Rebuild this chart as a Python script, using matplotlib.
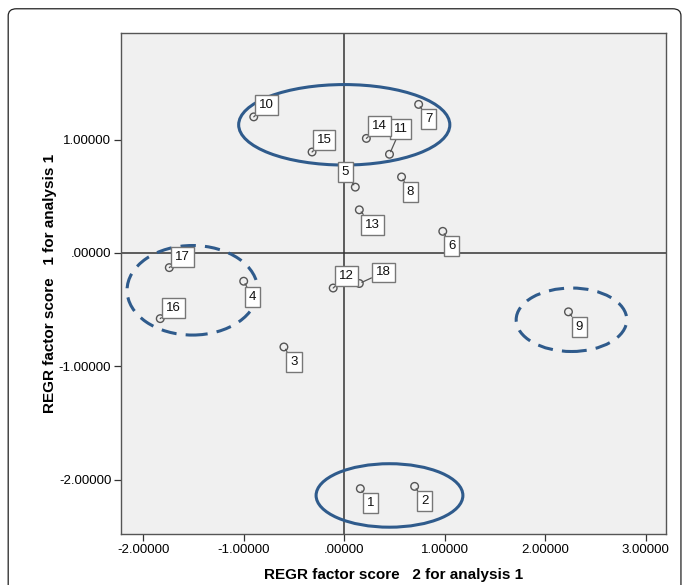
import matplotlib.pyplot as plt
from matplotlib.patches import Ellipse, FancyBboxPatch

# factor scores per case
case_ids = ['1', '2', '3', '4', '5', '6', '7', '8', '9', '10', '11', '12',
            '13', '14', '15', '16', '17', '18']
score2 = [0.16, 0.70, -0.60, -1.00, 0.11, 0.98, 0.74, 0.57, 2.23, -0.90,
          0.45, -0.11, 0.15, 0.22, -0.32, -1.83, -1.74, 0.15]
score1 = [-2.08, -2.06, -0.83, -0.25, 0.58, 0.19, 1.31, 0.67, -0.52, 1.20,
          0.87, -0.31, 0.38, 1.01, 0.89, -0.58, -0.13, -0.27]

# label offsets in pixels (dx, dy) from each point
label_off = [(10, -14), (10, -15), (10, -15), (9, -16), (-10, 15), (9, -15),
             (10, -15), (9, -15), (11, -15), (13, 12), (11, 25), (13, 12),
             (13, -15), (13, 12), (12, 12), (13, 11), (13, 11), (24, 11)]

# cluster ellipses: center x, center y, width, height, style
ell_cx = [0.0, -1.51, 2.26, 0.45]
ell_cy = [1.13, -0.33, -0.59, -2.14]
ell_w = [2.10, 1.30, 1.10, 1.46]
ell_h = [0.71, 0.79, 0.56, 0.56]
ell_ls = ['solid', (0, (5, 3)), (0, (5, 3)), 'solid']

xticks = [-2, -1, 0, 1, 2, 3]
yticks = [-2, -1, 0, 1]

plt.rcParams['font.family'] = ['Liberation Sans', 'DejaVu Sans']

fig = plt.figure(figsize=(6.83, 5.85), dpi=100)
ax = fig.add_axes([0.1772, 0.0872, 0.7979, 0.8564])
ax.set_facecolor('#f0f0f0')

# outer rounded frame
frame = FancyBboxPatch((0.012, -0.05), 0.985, 1.035, transform=fig.transFigure,
                       boxstyle='round,pad=0,rounding_size=0.012',
                       fill=False, edgecolor='#222222', lw=0.9, clip_on=False)
fig.patches.append(frame)

ax.axhline(0, color='#333333', lw=1.1, zorder=1)
ax.axvline(0, color='#333333', lw=1.1, zorder=1)

for cx, cy, w, h, ls in zip(ell_cx, ell_cy, ell_w, ell_h, ell_ls):
    ax.add_patch(Ellipse((cx, cy), w, h, fill=False, edgecolor='#2f5b8c',
                         lw=2.2, linestyle=ls, zorder=3))

ax.scatter(score2, score1, s=30, facecolor='none', edgecolor='#555555',
           lw=1.0, zorder=4)

for lab, x, y, (dx, dy) in zip(case_ids, score2, score1, label_off):
    ax.annotate(lab, (x, y), xytext=(dx, dy), textcoords='offset pixels',
                ha='center', va='center', fontsize=9.5, color='#111111',
                bbox=dict(boxstyle='square,pad=0.3', fc='white', ec='#777777', lw=1.0),
                arrowprops=dict(arrowstyle='-', color='#555555', lw=0.9,
                                shrinkA=0, shrinkB=2),
                zorder=5)

ax.set_xlim(-2.22, 3.20)
ax.set_ylim(-2.48, 1.94)
ax.set_xticks(xticks)
ax.set_yticks(yticks)


def fmt(v):
    s = '%.5f' % v
    return s.replace('0.', '.', 1) if s.startswith('0.') else s


ax.set_xticklabels([fmt(v) for v in xticks])
ax.set_yticklabels([fmt(v) for v in yticks])
ax.tick_params(labelsize=9.5, length=5, width=0.9, color='#333333', pad=2)

for sp in ax.spines.values():
    sp.set_color('#555555')
    sp.set_linewidth(1.0)

ax.set_xlabel('REGR factor score   2 for analysis 1', fontsize=11,
              fontweight='bold', labelpad=9)
ax.set_ylabel('REGR factor score   1 for analysis 1', fontsize=11,
              fontweight='bold', labelpad=1.5)

plt.savefig('out.png', dpi=100)
